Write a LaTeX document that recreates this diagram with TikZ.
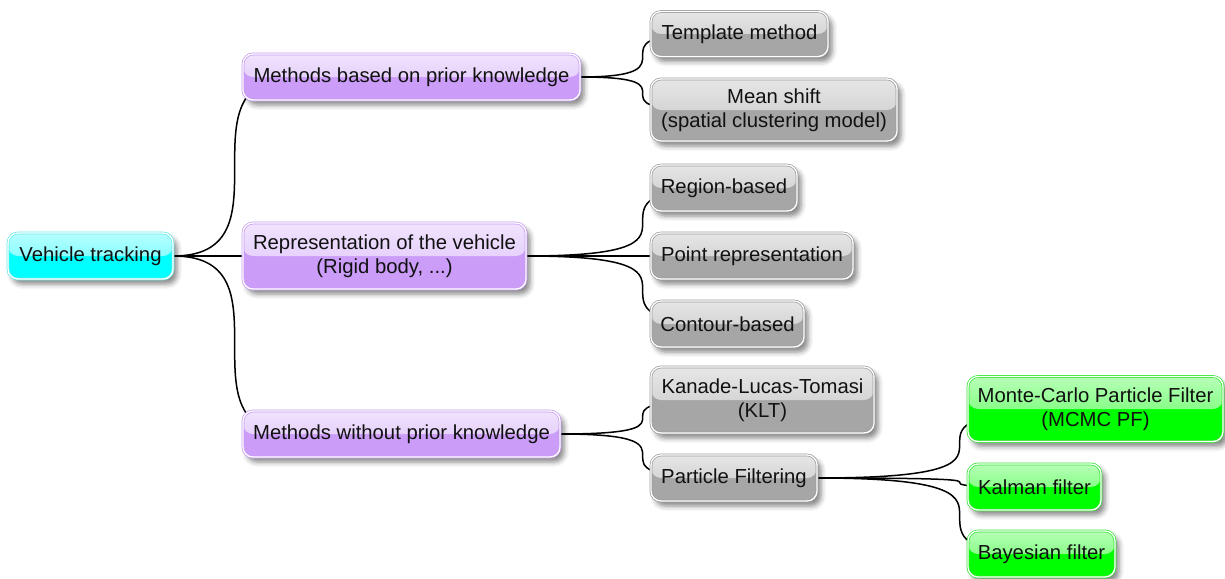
\documentclass[tikz,border=0pt]{standalone}
\usepackage{fontspec}
\setmainfont{Liberation Sans}
\usetikzlibrary{calc,shadows.blur}
\pgfdeclarelayer{bg}
\pgfsetlayers{bg,main}

% colour families: base fill, edge
\definecolor{cyBase}{HTML}{00FFFF}
\definecolor{cyEdge}{HTML}{66E8E8}
\definecolor{puBase}{HTML}{CB9DF8}
\definecolor{puEdge}{HTML}{C79AF2}
\definecolor{grBase}{HTML}{A6A6A6}
\definecolor{grEdge}{HTML}{9C9C9C}
\definecolor{gnBase}{HTML}{00FF00}
\definecolor{gnEdge}{HTML}{33E633}
\definecolor{txt}{HTML}{111111}

\tikzset{
  x=1pt, y=-1pt,
  mmbox/.style={
    rectangle, rounded corners=10pt, inner sep=0pt, align=center,
    font=\fontsize{20.3}{24}\selectfont, text=txt,
    fill=#1Base, draw=#1Edge, line width=0.7pt,
    double=white, double distance=1.3pt,
    blur shadow={shadow xshift=4pt, shadow yshift=-5pt,
                 shadow blur radius=5pt, shadow opacity=48},
    path picture={
      \fill[top color=white!72!#1Base, bottom color=white!35!#1Base]
        (path picture bounding box.north west) rectangle
        (path picture bounding box.east);
    }
  },
  conn/.style={draw=black, line width=1.5pt}
}

% S-shaped link from the right side of #1 to the left side of #2
\newcommand{\mmlink}[2]{%
  \draw[conn] let \p1=(#1.east), \p2=(#2.west), \p3=(#2.center),
      \n1={\x2-8pt}, \n2={0.5*(\y1+\y2)}, \n3={min(2*\n1-\x1,\x3)} in
    (\p1) .. controls (\n1,\y1) and (\n1,{0.5*(\y1+\n2)}) .. (\n1,\n2)
          .. controls (\n1,{0.5*(\n2+\y2)}) and (\n1,\y2) .. (\n3,\y2);%
}

\begin{document}
\begin{tikzpicture}
\useasboundingbox (0,0) rectangle (1225,578);

% root
\node[mmbox=cy, minimum width=165pt, minimum height=46pt] (vt) at (90.5,256) {Vehicle tracking};

% first level
\node[mmbox=pu, minimum width=337pt, minimum height=46pt] (mb) at (411.5,77) {Methods based on prior knowledge};
\node[mmbox=pu, minimum width=283pt, minimum height=66pt] (rep) at (384.5,256) {Representation of the vehicle\\(Rigid body, ...)};
\node[mmbox=pu, minimum width=317pt, minimum height=46pt] (mw) at (401.5,434) {Methods without prior knowledge};

% second level
\node[mmbox=gr, minimum width=177pt, minimum height=45pt] (tm) at (739.5,34) {Template method};
\node[mmbox=gr, minimum width=246pt, minimum height=62pt] (ms) at (774,110) {Mean shift\\(spatial clustering model)};
\node[mmbox=gr, minimum width=146pt, minimum height=46pt] (rb) at (724,188) {Region-based};
\node[mmbox=gr, minimum width=202pt, minimum height=46pt] (pr) at (752,256) {Point representation};
\node[mmbox=gr, minimum width=153pt, minimum height=46pt] (cb) at (727.5,324) {Contour-based};
\node[mmbox=gr, minimum width=223pt, minimum height=66pt] (klt) at (762.5,400) {Kanade-Lucas-Tomasi\\(KLT)};
\node[mmbox=gr, minimum width=166pt, minimum height=46pt] (pf) at (734,478) {Particle Filtering};

% third level
\node[mmbox=gn, minimum width=255pt, minimum height=65pt] (mc) at (1095.5,409) {Monte-Carlo Particle Filter\\(MCMC PF)};
\node[mmbox=gn, minimum width=133pt, minimum height=46pt] (kf) at (1034.5,487) {Kalman filter};
\node[mmbox=gn, minimum width=147pt, minimum height=46pt] (bf) at (1041.5,554) {Bayesian filter};

\begin{pgfonlayer}{bg}
  \mmlink{vt}{mb}
  \mmlink{vt}{rep}
  \mmlink{vt}{mw}
  \mmlink{mb}{tm}
  \mmlink{mb}{ms}
  \mmlink{rep}{rb}
  \mmlink{rep}{pr}
  \mmlink{rep}{cb}
  \mmlink{mw}{klt}
  \mmlink{mw}{pf}
  \mmlink{pf}{mc}
  \mmlink{pf}{kf}
  \mmlink{pf}{bf}
\end{pgfonlayer}
\end{tikzpicture}
\end{document}
